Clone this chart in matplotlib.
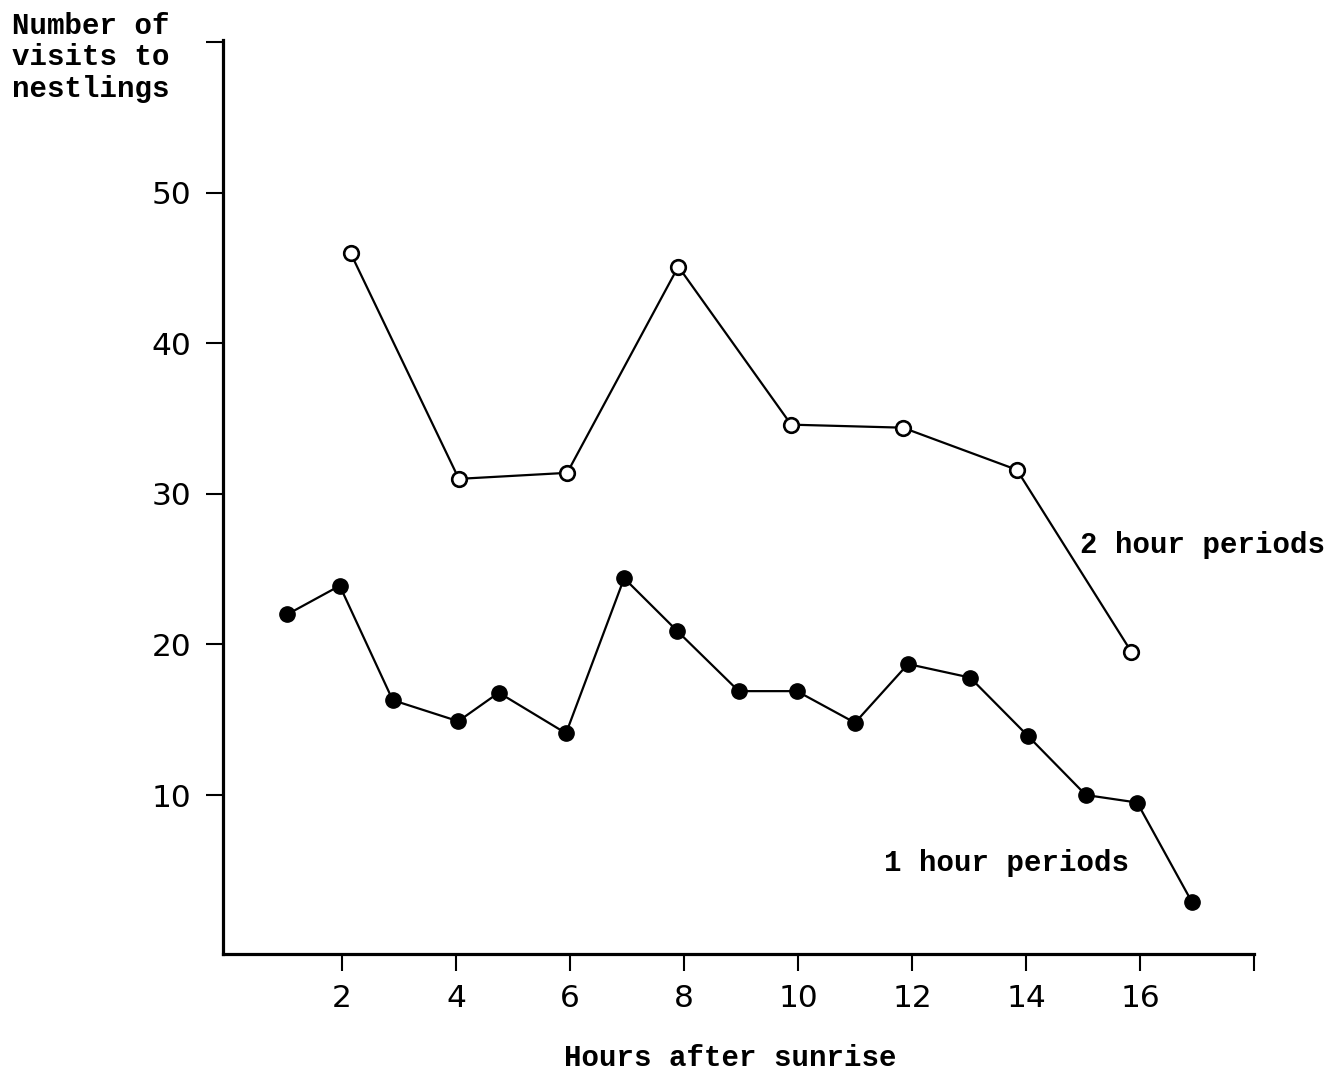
import matplotlib
matplotlib.use('Agg')
from matplotlib import pyplot as plt

# values
hours_2h = [2.15, 4.05, 5.95, 7.9, 9.88, 11.84, 13.84, 15.85]
visits_2h = [46.0, 31.0, 31.4, 45.1, 34.6, 34.4, 31.6, 19.5]

hours_1h = [1.04, 1.96, 2.89, 4.04, 4.75, 5.93, 6.95, 7.88, 8.96,
            9.98, 11.0, 11.93, 13.02, 14.04, 15.05, 15.95, 16.91]
visits_1h = [22.0, 23.9, 16.3, 14.9, 16.8, 14.1, 24.4, 20.9, 16.9,
             16.9, 14.8, 18.7, 17.8, 13.9, 10.0, 9.5, 2.9]

x_ticks = [2, 4, 6, 8, 10, 12, 14, 16, 18]
x_tick_labels = ['2', '4', '6', '8', '10', '12', '14', '16', '']
y_ticks = [10, 20, 30, 40, 50, 60]
y_tick_labels = ['10', '20', '30', '40', '50', '']

typewriter = {'family': 'Liberation Mono', 'weight': 'bold', 'size': 21}

W, H = 1340, 1075
fig = plt.figure(figsize=(W / 100, H / 100), dpi=100)
left, right, top, bottom = 223, 1254, 40, 954
ax = fig.add_axes([left / W, 1 - bottom / H, (right - left) / W, (bottom - top) / H])

ax.plot(hours_1h, visits_1h, color='black', lw=1.6, marker='o', ms=11,
        mfc='black', mec='black', clip_on=False, zorder=3)
ax.plot(hours_2h, visits_2h, color='black', lw=1.6, marker='o', ms=10.5,
        mfc='white', mec='black', mew=1.9, clip_on=False, zorder=3)

ax.set_xlim(-0.088, 18.0)
ax.set_ylim(-0.56, 60.15)

for side in ['top', 'right']:
    ax.spines[side].set_visible(False)
for side in ['left', 'bottom']:
    ax.spines[side].set_linewidth(2.3)

ax.set_xticks(x_ticks)
ax.set_xticklabels(x_tick_labels)
ax.set_yticks(y_ticks)
ax.set_yticklabels(y_tick_labels)
ax.tick_params(axis='both', direction='out', length=12.5, width=1.5, labelsize=22.5)
ax.tick_params(axis='y', pad=10)
ax.tick_params(axis='x', pad=9)

ax.text(14.95, 26.6, '2 hour periods', ha='left', va='center', fontdict=typewriter)
ax.text(11.5, 5.5, '1 hour periods', ha='left', va='center', fontdict=typewriter)

fig.text(12 / W, 1 - 12 / H, 'Number of\nvisits to\nnestlings', ha='left', va='top',
         linespacing=1.15, fontdict=typewriter)
fig.text(730 / W, 1 - 1058 / H, 'Hours after sunrise', ha='center', va='center',
         fontdict=typewriter)

fig.savefig('out.png', dpi=100)
